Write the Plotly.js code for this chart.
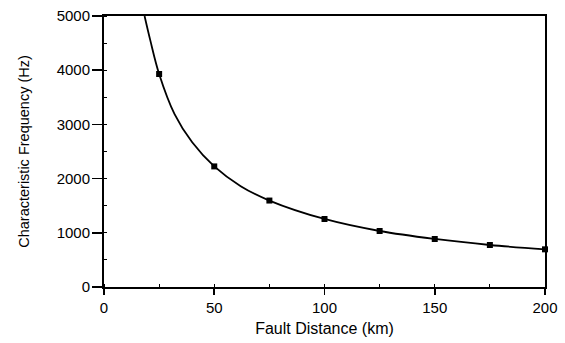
<!DOCTYPE html>
<html>
<head>
<meta charset="utf-8">
<script src="https://cdn.plot.ly/plotly-3.0.1.min.js"></script>
<style>html,body{margin:0;padding:0;background:#fff;}#chart{width:565px;height:343px;}</style>
</head>
<body>
<div id="chart"></div>
<script>
// Measured points (markers)
const distanceKm = [25, 50, 75, 100, 125, 150, 175, 200];
const frequencyHz = [3930, 2225, 1595, 1255, 1033, 886, 775, 695];

// Fitted curve
const curveDistance = [18.4, 21, 25, 32, 40, 50, 62, 75, 100, 125, 150, 175, 200];
const curveFrequency = [5000, 4550, 3930, 3190, 2670, 2225, 1860, 1595, 1255, 1033, 886, 775, 695];

const xTickVals = [0, 50, 100, 150, 200];
const yTickVals = [0, 1000, 2000, 3000, 4000, 5000];

const font = 'Arial, "Liberation Sans", sans-serif';

const traces = [
  {
    x: curveDistance, y: curveFrequency, type: 'scatter', mode: 'lines',
    line: {color: '#000', width: 1.8, shape: 'spline', smoothing: 1},
    hoverinfo: 'skip', showlegend: false
  },
  {
    x: distanceKm, y: frequencyHz, type: 'scatter', mode: 'markers',
    marker: {symbol: 'square', size: 6, color: '#000'},
    showlegend: false, cliponaxis: false
  }
];

const layout = {
  width: 565, height: 343,
  margin: {l: 103.5, r: 20, t: 15.5, b: 55.7},
  paper_bgcolor: '#fff', plot_bgcolor: '#fff',
  font: {family: font, color: '#000', size: 15},
  showlegend: false,
  xaxis: {
    range: [0, 200], tickvals: xTickVals, ticktext: xTickVals.map(String),
    ticks: 'outside', ticklen: 6, tickwidth: 1.6, tickcolor: '#000',
    showline: true, linecolor: '#000', linewidth: 2, mirror: true,
    showgrid: false, zeroline: false,
    minor: {ticks: 'inside', dtick: 25, tick0: 0, ticklen: 3, tickwidth: 1, tickcolor: '#000', showgrid: false},
    tickfont: {size: 15, family: font},
    title: {text: 'Fault Distance (km)', font: {size: 16, family: font}, standoff: 8}
  },
  yaxis: {
    range: [0, 5000], tickvals: yTickVals, ticktext: yTickVals.map(String),
    ticks: 'outside', ticklen: 10, tickwidth: 1.6, tickcolor: '#000',
    showline: true, linecolor: '#000', linewidth: 2, mirror: true,
    showgrid: false, zeroline: false,
    minor: {ticks: 'inside', dtick: 500, tick0: 0, ticklen: 3, tickwidth: 1, tickcolor: '#000', showgrid: false},
    tickfont: {size: 15, family: font},
    ticklabelstandoff: -1,
    title: {text: 'Characteristic Frequency (Hz)', font: {size: 14.5, family: font}, standoff: 24}
  }
};

Plotly.newPlot('chart', traces, layout, {displayModeBar: false, staticPlot: true});
</script>
</body>
</html>
